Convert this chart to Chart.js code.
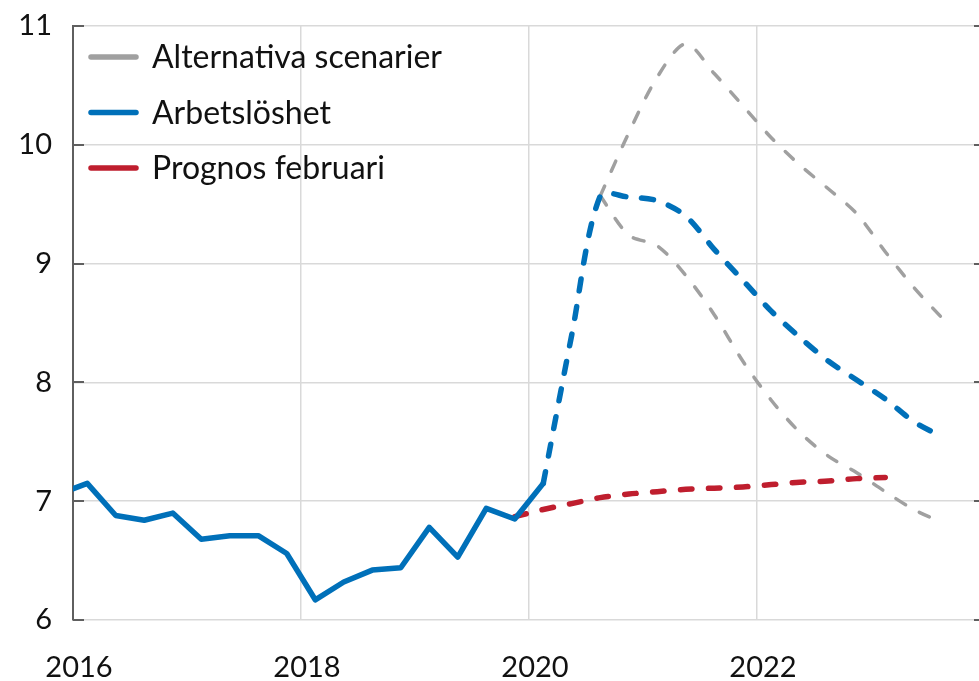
<!DOCTYPE html>
<html>
<head>
<meta charset="utf-8">
<script src="https://cdn.jsdelivr.net/npm/chart.js@4.4.1/dist/chart.umd.min.js"></script>
<style>
  html, body { margin: 0; padding: 0; background: #fff; overflow: hidden; }
  #wrap { width: 1000px; height: 681px; }
</style>
</head>
<body>
<div id="wrap"><canvas id="c" width="1000" height="681"></canvas></div>
<script>
// ---- Data (quarterly, %) ----
const quarters = [
  '2015Q4',
  '2016Q1','2016Q2','2016Q3','2016Q4',
  '2017Q1','2017Q2','2017Q3','2017Q4',
  '2018Q1','2018Q2','2018Q3','2018Q4',
  '2019Q1','2019Q2','2019Q3','2019Q4',
  '2020Q1','2020Q2','2020Q3','2020Q4',
  '2021Q1','2021Q2','2021Q3','2021Q4',
  '2022Q1','2022Q2','2022Q3','2022Q4',
  '2023Q1','2023Q2','2023Q3'
];
const arbetsloshetUtfall = [7.06, 7.15, 6.88, 6.84, 6.90, 6.68, 6.71, 6.71, 6.56, 6.17, 6.32, 6.42, 6.44, 6.78, 6.53, 6.94, 6.85, 7.15,
  null, null, null, null, null, null, null, null, null, null, null, null, null, null];
const arbetsloshetPrognos = [null, null, null, null, null, null, null, null, null, null, null, null, null, null, null, null, null,
  7.15, 8.40, 9.57, 9.56, 9.53, 9.40, 9.12, 8.86, 8.60, 8.38, 8.18, 8.02, 7.86, 7.67, 7.54];
const prognosFebruari = [null, null, null, null, null, null, null, null, null, null, null, null, null, null, null, null,
  6.87, 6.93, 6.98, 7.03, 7.06, 7.08, 7.10, 7.11, 7.12, 7.14, 7.16, 7.17, 7.19, 7.20, null, null];
const scenarioHog = [null, null, null, null, null, null, null, null, null, null, null, null, null, null, null, null, null, null, null,
  9.57, 10.10, 10.57, 10.85, 10.60, 10.33, 10.06, 9.83, 9.63, 9.42, 9.10, 8.80, 8.54];
const scenarioLag = [null, null, null, null, null, null, null, null, null, null, null, null, null, null, null, null, null, null, null,
  9.57, 9.24, 9.15, 8.90, 8.57, 8.18, 7.85, 7.58, 7.38, 7.24, 7.08, 6.93, 6.82];

const legendLabels = ['Alternativa scenarier', 'Arbetslöshet', 'Prognos februari'];
const xTickValues = [2016, 2018, 2020, 2022];
const yTickValues = [6, 7, 8, 9, 10, 11];

// ---- Styles ----
const GREY = '#a0a0a0';
const BLUE = '#0070b9';
const RED = '#bf1e2e';
const GRID = '#d9d9d9';
const AXIS = '#5f5f5f';
const FONT = 'Lato, "Open Sans", sans-serif';

function qToYear(q) {
  const y = parseInt(q.slice(0, 4), 10);
  const n = parseInt(q.slice(5), 10);
  return y + (n - 0.5) / 4;
}
function toPoints(values) {
  const pts = [];
  values.forEach((v, i) => { if (v !== null) pts.push({ x: qToYear(quarters[i]), y: v }); });
  return pts;
}

const legendColors = [GREY, BLUE, RED];

const customPlugin = {
  id: 'custom',
  beforeDatasetsDraw(chart) {
    const { ctx, chartArea, scales } = chart;
    ctx.save();
    ctx.strokeStyle = AXIS;
    ctx.lineWidth = 2;
    yTickValues.forEach(v => {
      const y = Math.round(scales.y.getPixelForValue(v));
      ctx.beginPath();
      ctx.moveTo(chartArea.left, y);
      ctx.lineTo(chartArea.left + 11, y);
      ctx.moveTo(chartArea.right - 11, y);
      ctx.lineTo(chartArea.right, y);
      ctx.stroke();
    });
    ctx.restore();
  },
  afterDraw(chart) {
    const { ctx, chartArea } = chart;
    ctx.save();
    const x0 = chartArea.left + 16;
    const y0 = chartArea.top + 31;
    const step = 55.5;
    ctx.font = '32px ' + FONT;
    ctx.textBaseline = 'middle';
    ctx.textAlign = 'left';
    legendLabels.forEach((lab, i) => {
      const y = y0 + i * step;
      ctx.strokeStyle = legendColors[i];
      ctx.lineWidth = 5.5;
      ctx.lineCap = 'round';
      ctx.beginPath();
      ctx.moveTo(x0 + 2, y);
      ctx.lineTo(x0 + 47, y);
      ctx.stroke();
      ctx.fillStyle = '#111';
      ctx.fillText(lab, x0 + 63, y + 1);
    });
    ctx.restore();
  }
};

new Chart(document.getElementById('c'), {
  type: 'line',
  data: {
    datasets: [
      { label: 'Arbetslöshet', data: toPoints(arbetsloshetUtfall), borderColor: BLUE, borderWidth: 5.5, tension: 0, order: 1, borderCapStyle: 'round', borderJoinStyle: 'round' },
      { label: 'Arbetslöshet prognos', data: toPoints(arbetsloshetPrognos), borderColor: BLUE, borderWidth: 5.5, borderDash: [12, 16], borderCapStyle: 'round', tension: 0.3, order: 2 },
      { label: 'Prognos februari', data: toPoints(prognosFebruari), borderColor: RED, borderWidth: 5.5, borderDash: [12, 16], borderCapStyle: 'round', tension: 0.3, order: 3 },
      { label: 'Alternativa scenarier', data: toPoints(scenarioHog), borderColor: GREY, borderWidth: 3.5, borderDash: [11, 16], borderCapStyle: 'round', tension: 0.3, order: 4 },
      { label: 'Alternativa scenarier 2', data: toPoints(scenarioLag), borderColor: GREY, borderWidth: 3.5, borderDash: [11, 16], borderCapStyle: 'round', tension: 0.3, order: 5 }
    ]
  },
  options: {
    responsive: false,
    animation: false,
    layout: { padding: { top: 26, right: 15, left: 0, bottom: 0 } },
    elements: { point: { radius: 0 } },
    plugins: { legend: { display: false }, tooltip: { enabled: false } },
    scales: {
      x: {
        type: 'linear',
        min: 2016,
        max: 2024,
        afterBuildTicks: s => { s.ticks = xTickValues.map(v => ({ value: v })); },
        afterFit: s => { s.height = 61; s.paddingLeft = 0; s.paddingRight = 0; },
        grid: {
          color: ctx => (ctx.tick && ctx.tick.value === 2016) ? 'rgba(0,0,0,0)' : GRID,
          lineWidth: 1.5,
          drawTicks: false
        },
        border: { display: false },
        ticks: {
          font: { family: FONT, size: 29 },
          color: '#111',
          padding: 30,
          labelOffset: 6,
          maxRotation: 0,
          callback: v => String(v)
        }
      },
      y: {
        min: 6,
        max: 11,
        afterBuildTicks: s => { s.ticks = yTickValues.map(v => ({ value: v })); },
        afterFit: s => { s.width = 73; s.paddingTop = 0; s.paddingBottom = 0; },
        grid: { color: GRID, lineWidth: 1.5, drawTicks: false },
        border: { display: true, color: AXIS, width: 2 },
        ticks: {
          font: { family: FONT, size: 29 },
          color: '#111',
          padding: 21,
          callback: v => String(v)
        }
      }
    }
  },
  plugins: [customPlugin]
});
</script>
</body>
</html>
